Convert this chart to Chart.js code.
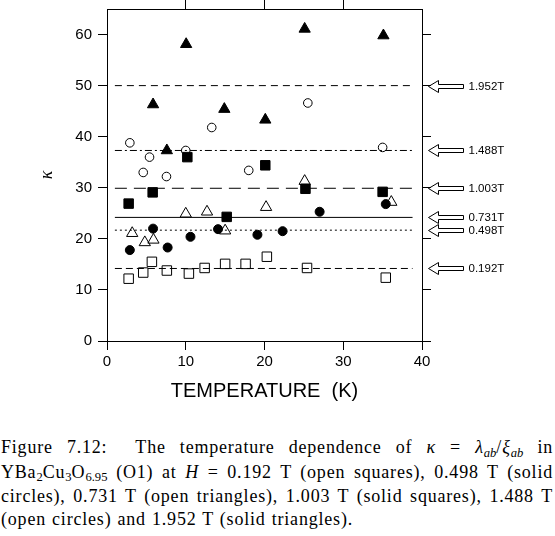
<!DOCTYPE html>
<html lang="en">
<head>
    <meta charset="UTF-8">
    <title>Kappa vs temperature, YBa2Cu3O6.95</title>
    <style>
        body {
            margin: 0;
            background: #fff;
            width: 555px;
            height: 536px;
            position: relative;
            overflow: hidden;
        }
        #chart {
            position: absolute;
            left: 0;
            top: 0;
        }
        #caption {
            position: absolute;
            left: 1px;
            top: 436px;
            width: 552px;
            font-family: "Liberation Serif", "DejaVu Serif", serif;
            font-size: 18px;
            letter-spacing: 0.8px;
            line-height: 22.5px;
            color: #000;
        }
        #caption .ln {
            text-align: justify;
            text-align-last: justify;
            white-space: nowrap;
            word-spacing: -2px;
        }
        #caption .last {
            width: 352px;
            text-align: justify;
            text-align-last: justify;
            white-space: nowrap;
        }
        #caption sub {
            font-size: 70%;
            vertical-align: baseline;
            position: relative;
            top: 0.3em;
            letter-spacing: 0;
        }
    </style>
</head>
<body>
    <canvas id="chart" width="555" height="410"></canvas>
    <div id="caption">
        <div class="ln">Figure 7.12:&nbsp; The temperature dependence of <i>κ</i> = <i>λ<sub>ab</sub></i>/<i>ξ<sub>ab</sub></i> in</div>
        <div class="ln">YBa<sub>2</sub>Cu<sub>3</sub>O<sub>6.95</sub> (O1) at <i>H</i> = 0.192 T (open squares), 0.498 T (solid</div>
        <div class="ln">circles), 0.731 T (open triangles), 1.003 T (solid squares), 1.488 T</div>
        <div class="last">(open circles) and 1.952 T (solid triangles).</div>
    </div>

    <script src="https://cdn.jsdelivr.net/npm/chart.js"></script>
    <script>
        // measured kappa values, one pair of arrays per field
        const t0192 = [2.75, 4.6, 5.7, 7.6, 10.4, 12.4, 15.0, 17.6, 20.3, 25.4, 35.4];
        const k0192 = [12.2, 13.4, 15.5, 13.8, 13.2, 14.3, 15.1, 15.1, 16.5, 14.3, 12.4];

        const t0498 = [2.9, 5.85, 7.7, 10.6, 14.1, 19.1, 22.3, 27.0, 35.4];
        const k0498 = [17.8, 22.0, 18.3, 20.4, 21.9, 20.8, 21.5, 25.3, 26.8];

        const t0731 = [3.2, 4.8, 5.9, 10.0, 12.7, 15.0, 20.2, 25.1, 36.1];
        const k0731 = [21.1, 19.3, 19.8, 24.9, 25.3, 21.6, 26.2, 31.3, 27.2];

        const t1003 = [2.75, 5.8, 10.2, 15.2, 20.1, 25.2, 35.0];
        const k1003 = [26.9, 29.1, 36.0, 24.3, 34.4, 29.8, 29.2];

        const t1488 = [2.9, 4.6, 5.4, 7.55, 10.0, 13.3, 18.0, 25.5, 35.0];
        const k1488 = [38.8, 33.0, 36.0, 32.2, 37.3, 41.8, 33.4, 46.6, 37.9];

        const t1952 = [5.85, 7.6, 10.05, 14.9, 20.1, 25.1, 35.1];
        const k1952 = [46.3, 37.3, 58.1, 45.4, 43.3, 61.1, 59.8];

        // average kappa for each field (horizontal lines + arrows)
        const avgLabels = ['0.192T', '0.498T', '0.731T', '1.003T', '1.488T', '1.952T'];
        const avgKappa = [14.2, 21.7, 24.2, 29.9, 37.3, 50.0];
        const avgDash = [[7, 4], [2, 3], [], [12, 7], [7, 3, 2, 3], [7, 5]];
        const avgSpan = [1, 38.8];

        const xTicks = [0, 10, 20, 30, 40];
        const xTopTicks = [10, 20, 30];
        const yTicks = [0, 10, 20, 30, 40, 50, 60];

        function pts(xs, ys) {
            return xs.map((x, i) => ({ x: x, y: ys[i] }));
        }

        function markers(xs, ys, style, filled, r) {
            return {
                type: 'scatter',
                data: pts(xs, ys),
                pointStyle: style,
                pointRadius: r,
                pointHoverRadius: r,
                borderColor: '#000',
                backgroundColor: filled ? '#000' : 'rgba(0,0,0,0)',
                borderWidth: 1,
                order: 1
            };
        }

        const datasets = [
            markers(t0192, k0192, 'rect', false, 6.7),
            markers(t0498, k0498, 'circle', true, 4.5),
            markers(t0731, k0731, 'triangle', false, 6.5),
            markers(t1003, k1003, 'rect', true, 6.7),
            markers(t1488, k1488, 'circle', false, 4.3),
            markers(t1952, k1952, 'triangle', true, 6.5)
        ];

        avgKappa.forEach((k, i) => {
            datasets.push({
                type: 'line',
                data: [{ x: avgSpan[0], y: k }, { x: avgSpan[1], y: k }],
                borderColor: '#000',
                borderWidth: 1,
                borderDash: avgDash[i],
                pointRadius: 0,
                fill: false,
                order: 2
            });
        });

        // open arrows with field labels to the right of the frame
        const arrowPlugin = {
            id: 'arrows',
            afterDraw(chart) {
                const ctx = chart.ctx;
                const yScale = chart.scales.y;
                const x0 = chart.chartArea.right + 6.5;
                ctx.save();
                ctx.strokeStyle = '#000';
                ctx.lineWidth = 1;
                ctx.fillStyle = '#000';
                ctx.font = '11.5px "Liberation Sans", Arial, sans-serif';
                ctx.textBaseline = 'middle';
                avgKappa.forEach((k, i) => {
                    const y = Math.round(yScale.getPixelForValue(k)) + 0.5;
                    ctx.beginPath();
                    ctx.moveTo(x0, y);
                    ctx.lineTo(x0 + 10, y - 6);
                    ctx.lineTo(x0 + 10, y - 2);
                    ctx.lineTo(x0 + 35, y - 2);
                    ctx.lineTo(x0 + 35, y + 2);
                    ctx.lineTo(x0 + 10, y + 2);
                    ctx.lineTo(x0 + 10, y + 6);
                    ctx.closePath();
                    ctx.stroke();
                    ctx.fillText(avgLabels[i], x0 + 40, y);
                });
                ctx.restore();
            }
        };

        function frameGrid() {
            return {
                display: true,
                drawOnChartArea: false,
                drawTicks: true,
                tickLength: 9,
                color: '#000',
                lineWidth: 1
            };
        }

        const tickFont = { family: '"Liberation Sans", Arial, sans-serif', size: 15 };

        new Chart(document.getElementById('chart'), {
            type: 'scatter',
            data: { datasets: datasets },
            plugins: [arrowPlugin],
            options: {
                responsive: false,
                animation: false,
                layout: { padding: 0, autoPadding: false },
                plugins: {
                    legend: { display: false },
                    tooltip: { enabled: false }
                },
                scales: {
                    x: {
                        type: 'linear',
                        position: 'bottom',
                        min: 0,
                        max: 40,
                        afterBuildTicks: s => { s.ticks = xTicks.map(v => ({ value: v })); },
                        ticks: { color: '#000', font: tickFont, padding: 3 },
                        grid: frameGrid(),
                        border: { display: true, color: '#000', width: 1 },
                        title: {
                            display: true,
                            text: 'TEMPERATURE  (K)',
                            color: '#000',
                            font: { family: '"Liberation Sans", Arial, sans-serif', size: 20 },
                            padding: { top: 0, bottom: 6.5 }
                        },
                        afterFit: s => { s.height = 69; }
                    },
                    x2: {
                        type: 'linear',
                        position: 'top',
                        min: 0,
                        max: 40,
                        afterBuildTicks: s => { s.ticks = xTopTicks.map(v => ({ value: v })); },
                        ticks: { display: false },
                        grid: frameGrid(),
                        border: { display: true, color: '#000', width: 1 },
                        afterFit: s => { s.height = 9; }
                    },
                    y: {
                        type: 'linear',
                        position: 'left',
                        min: 0,
                        max: 65,
                        afterBuildTicks: s => { s.ticks = yTicks.map(v => ({ value: v })); },
                        ticks: { color: '#000', font: tickFont, padding: 6 },
                        grid: frameGrid(),
                        border: { display: true, color: '#000', width: 1 },
                        title: {
                            display: true,
                            text: 'κ',
                            color: '#000',
                            font: { family: '"Liberation Serif", serif', size: 18, style: 'italic' },
                            padding: { top: 36, bottom: 0 }
                        },
                        afterFit: s => {
                            s.width = 107;
                            s.paddingTop = 0;
                            s.paddingBottom = 0;
                        }
                    },
                    y2: {
                        type: 'linear',
                        position: 'right',
                        min: 0,
                        max: 65,
                        afterBuildTicks: s => { s.ticks = yTicks.map(v => ({ value: v })); },
                        ticks: { display: false },
                        grid: frameGrid(),
                        border: { display: true, color: '#000', width: 1 },
                        afterFit: s => { s.width = 133; }
                    }
                }
            }
        });
    </script>
</body>
</html>
